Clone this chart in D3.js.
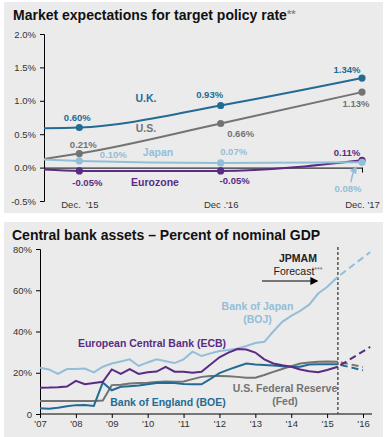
<!DOCTYPE html>
<html>
<head>
<meta charset="utf-8">
<script src="https://cdn.jsdelivr.net/npm/d3@7"></script>
<style>
  body { margin: 0; background: #fff; font-family: "Liberation Sans", Arial, sans-serif; }
  .axis text { font-family: "Liberation Sans", Arial, sans-serif; fill: #333; }
</style>
</head>
<body>
<div id="chart"></div>
<script>
// ---- top chart: market expectations (months from Dec '15) ----
const rateMonths = [-3, 0, 12, 24];
const rateTickMonths = [0, 12, 24];
const rateTickLabels = ["Dec.  '15", "Dec .'16", "Dec. '17"];
const rateYTicks = [-0.5, 0, 0.5, 1.0, 1.5, 2.0];
const ukRates = [0.59, 0.60, 0.93, 1.34];
const usRates = [0.13, 0.21, 0.66, 1.13];
const japanRates = [0.12, 0.10, 0.07, 0.08];
const euroRates = [-0.03, -0.05, -0.05, 0.11];

// ---- bottom chart: central bank assets, % of GDP (quarterly) ----
const assetDates = [2007, 2007.25, 2007.5, 2007.75, 2008, 2008.25, 2008.5, 2008.75,
  2009, 2009.25, 2009.5, 2009.75, 2010, 2010.25, 2010.5, 2010.75,
  2011, 2011.25, 2011.5, 2011.75, 2012, 2012.25, 2012.5, 2012.75,
  2013, 2013.25, 2013.5, 2013.75, 2014, 2014.25, 2014.5, 2014.75,
  2015, 2015.3];
const bojAssets = [22.4, 21.6, 19.4, 21.8, 21.8, 22.0, 20.2, 22.9,
  24.5, 25.5, 26.5, 23.3, 25.0, 26.5, 25.6, 24.7,
  26.5, 30.2, 28.1, 29.4, 30.5, 31.0, 31.8, 33.0,
  34.4, 35.0, 40.0, 44.7, 47.6, 50.0, 53.0, 58.4,
  61.6, 66.5];
const ecbAssets = [12.7, 12.8, 13.0, 13.3, 16.1, 14.4, 15.0, 15.6,
  21.6, 19.5, 21.8, 19.4, 20.2, 20.6, 22.9, 20.5,
  20.5, 20.0, 20.5, 24.0, 27.5, 29.8, 31.5, 31.3,
  29.8, 26.5, 24.5, 23.6, 22.9, 21.6, 20.7, 20.2,
  21.3, 22.9];
const fedAssets = [6.3, 6.3, 6.3, 6.3, 6.3, 6.3, 6.3, 6.5,
  14.0, 14.2, 14.8, 15.0, 15.2, 15.5, 15.8, 15.6,
  15.8, 16.9, 18.0, 18.4, 18.4, 18.3, 18.0, 17.6,
  17.6, 18.9, 20.4, 21.8, 23.2, 24.5, 25.0, 25.3,
  25.5, 25.3];
const boeAssets = [2.8, 2.5, 3.0, 3.8, 4.3, 4.4, 3.9, 15.3,
  11.5, 13.2, 13.5, 13.8, 14.4, 15.0, 15.2, 15.0,
  14.6, 14.4, 14.4, 17.0, 19.8, 21.5, 23.0, 24.5,
  24.0, 23.8, 23.5, 23.2, 22.9, 22.9, 24.0, 24.1,
  24.1, 24.1];
// JPMAM forecast
const forecastDatesLong = [2015.3, 2016.2];
const forecastDatesShort = [2015.3, 2016.0];
const bojForecast = [66.5, 78.5];
const ecbForecast = [22.9, 32.5];
const fedForecast = [25.3, 22.8];
const boeForecast = [24.1, 21.2];
const yearTicks = [2007, 2008, 2009, 2010, 2011, 2012, 2013, 2014, 2015, 2016];
const assetYTicks = [0, 20, 40, 60, 80];

const colors = {uk: "#246b93", us: "#737373", japan: "#93bed7", euro: "#5a2b84"};

const width = 385, height = 437;
const svg = d3.select("#chart").append("svg")
  .attr("width", width).attr("height", height);

// panels
svg.append("rect").attr("x", 4).attr("y", 2).attr("width", 379).attr("height", 211).attr("fill", "#ebebeb");
svg.append("rect").attr("x", 4).attr("y", 222).attr("width", 379).attr("height", 215).attr("fill", "#ebebeb");

/* ===================== TOP CHART ===================== */
const x1 = d3.scaleLinear().domain([-3, 24]).range([44, 362]);
const y1 = d3.scaleLinear().domain([-0.5, 2]).range([201, 34]);

const gTop = svg.append("g");

const title1 = gTop.append("text").attr("x", 13).attr("y", 20)
  .attr("font-size", 14).attr("font-weight", "bold").attr("fill", "#111")
  .text("Market expectations for target policy rate");
title1.append("tspan").attr("fill", "#888").attr("font-size", 11).attr("dy", -2).text("**");

// y axis
gTop.append("g").attr("class", "axis")
  .attr("transform", `translate(${x1(-3)},0)`)
  .call(d3.axisLeft(y1).tickValues(rateYTicks).tickSize(4).tickPadding(4)
    .tickFormat(d => d.toFixed(1) + "%"))
  .call(g => g.selectAll("text").attr("font-size", 9.5))
  .call(g => g.select(".domain").attr("stroke", "#000"));

// zero line with date ticks
gTop.append("g").attr("class", "axis")
  .attr("transform", `translate(0,${y1(0)})`)
  .call(d3.axisBottom(x1).tickValues(rateTickMonths).tickSize(5).tickSizeOuter(0).tickFormat(""))
  .call(g => g.select(".domain").attr("stroke", "#000"));

// date labels at bottom
gTop.append("g").attr("class", "axis")
  .attr("transform", `translate(0,${y1(-0.5)})`)
  .call(d3.axisBottom(x1).tickValues(rateTickMonths).tickSize(0).tickPadding(0)
    .tickFormat((d, i) => rateTickLabels[i]))
  .call(g => g.select(".domain").remove())
  .call(g => g.selectAll("text").attr("font-size", 9.5).attr("fill", "#222").style("white-space", "pre"));

const line1 = d3.line()
  .x((d, i) => x1(rateMonths[i]))
  .y(d => y1(d))
  .curve(d3.curveMonotoneX);

const rateSeries = [
  {name: "uk", values: ukRates},
  {name: "us", values: usRates},
  {name: "euro", values: euroRates},
  {name: "japan", values: japanRates}
];

rateSeries.forEach(s => {
  gTop.append("path")
    .attr("d", line1(s.values))
    .attr("fill", "none")
    .attr("stroke", colors[s.name])
    .attr("stroke-width", 2);
  gTop.selectAll(null)
    .data(s.values.slice(1))
    .join("circle")
    .attr("cx", (d, i) => x1(rateMonths[i + 1]))
    .attr("cy", d => y1(d))
    .attr("r", 3.6)
    .attr("fill", colors[s.name]);
});

// value labels: [series, index, dx, dy]
const valueLabels = [
  ["uk", 1, -2, -7], ["uk", 2, -11, -7], ["uk", 3, -15, -5],
  ["us", 1, 4, -6], ["us", 2, 20, 13], ["us", 3, -6, 15],
  ["japan", 1, 34, -2.5], ["japan", 2, 13, -7.5], ["japan", 3, -14, 30],
  ["euro", 1, 8, 15.5], ["euro", 2, 14, 13.5], ["euro", 3, -15, -4]
];
const seriesValues = {uk: ukRates, us: usRates, japan: japanRates, euro: euroRates};
gTop.selectAll("text.value")
  .data(valueLabels)
  .join("text")
  .attr("class", "value")
  .attr("x", d => x1(rateMonths[d[1]]) + d[2])
  .attr("y", d => y1(seriesValues[d[0]][d[1]]) + d[3])
  .attr("text-anchor", "middle")
  .attr("font-size", 9.5)
  .attr("font-weight", "bold")
  .attr("fill", d => colors[d[0]])
  .text(d => seriesValues[d[0]][d[1]].toFixed(2) + "%");

// series names
const rateNames = [["U.K.", "uk", 146, 101.5], ["U.S.", "us", 146, 131.5],
  ["Japan", "japan", 158, 155.5], ["Eurozone", "euro", 155, 185.5]];
gTop.selectAll("text.sname")
  .data(rateNames)
  .join("text")
  .attr("class", "sname")
  .attr("x", d => d[2]).attr("y", d => d[3])
  .attr("text-anchor", "middle")
  .attr("font-size", 10.5).attr("font-weight", "bold")
  .attr("fill", d => colors[d[1]])
  .text(d => d[0]);

// little arrow from 0.08% label to its point
const defs = svg.append("defs");
defs.append("marker").attr("id", "arrJ").attr("viewBox", "0 0 10 10")
  .attr("refX", 5).attr("refY", 5).attr("markerWidth", 5).attr("markerHeight", 5)
  .attr("orient", "auto")
  .append("path").attr("d", "M0,0L10,5L0,10z").attr("fill", colors.japan);
gTop.append("path")
  .attr("d", `M${x1(24) - 11},${y1(0.08) + 20} Q${x1(24) - 10},${y1(0.08) + 12} ${x1(24) - 7},${y1(0.08) + 7}`)
  .attr("fill", "none").attr("stroke", colors.japan).attr("stroke-width", 1.5)
  .attr("marker-end", "url(#arrJ)");

/* ===================== BOTTOM CHART ===================== */
const x2 = d3.scaleLinear().domain([2007, 2016]).range([40, 363]);
const y2 = d3.scaleLinear().domain([0, 80]).range([414, 249]);
const gBot = svg.append("g");

gBot.append("text").attr("x", 12).attr("y", 240)
  .attr("font-size", 14).attr("font-weight", "bold").attr("fill", "#111")
  .text("Central bank assets \u2013 Percent of nominal GDP");

gBot.append("g").attr("class", "axis")
  .attr("transform", `translate(${x2(2007)},0)`)
  .call(d3.axisLeft(y2).tickValues(assetYTicks).tickSize(4).tickPadding(4)
    .tickFormat(d => d === 0 ? "0" : d + "%"))
  .call(g => g.selectAll("text").attr("font-size", 9.5))
  .call(g => g.select(".domain").attr("stroke", "#000"));

gBot.append("g").attr("class", "axis")
  .attr("transform", `translate(0,${y2(0)})`)
  .call(d3.axisBottom(x2).tickValues(yearTicks).tickSize(4).tickSizeOuter(0).tickPadding(2)
    .tickFormat(d => "'" + String(d).slice(2)))
  .call(g => g.selectAll("text").attr("font-size", 9.5).attr("fill", "#222"))
  .call(g => g.select(".domain").attr("stroke", "#000").attr("d", `M${x2(2007)},0H${x2(2016.25)}`));

// forecast divider
gBot.append("line")
  .attr("x1", x2(2015.3)).attr("x2", x2(2015.3))
  .attr("y1", 247).attr("y2", y2(0))
  .attr("stroke", "#555").attr("stroke-width", 1.5).attr("stroke-dasharray", "3,2");

const line2 = d3.line().x(d => x2(d[0])).y(d => y2(d[1]));
const assetSeries = [
  {name: "japan", values: bojAssets, fc: bojForecast, fd: forecastDatesLong},
  {name: "us", values: fedAssets, fc: fedForecast, fd: forecastDatesShort},
  {name: "uk", values: boeAssets, fc: boeForecast, fd: forecastDatesShort},
  {name: "euro", values: ecbAssets, fc: ecbForecast, fd: forecastDatesLong}
];
assetSeries.forEach(s => {
  gBot.append("path")
    .attr("d", line2(s.values.map((v, i) => [assetDates[i], v])))
    .attr("fill", "none").attr("stroke", colors[s.name]).attr("stroke-width", 2);
  gBot.append("path")
    .attr("d", line2(s.fc.map((v, i) => [s.fd[i], v])))
    .attr("fill", "none").attr("stroke", colors[s.name]).attr("stroke-width", 2)
    .attr("stroke-dasharray", "7,4").attr("stroke-dashoffset", 8);
});

// forecast note
gBot.append("text").attr("x", 298).attr("y", 262).attr("text-anchor", "middle")
  .attr("font-size", 10.5).attr("font-weight", "bold").attr("fill", "#222").text("JPMAM");
const fcText = gBot.append("text").attr("x", 298).attr("y", 275).attr("text-anchor", "middle")
  .attr("font-size", 10.5).attr("fill", "#222").text("Forecast");
fcText.append("tspan").attr("font-size", 7).attr("dy", -3).attr("fill", "#666").text("***");
defs.append("marker").attr("id", "arrF").attr("viewBox", "0 0 10 10")
  .attr("refX", 2).attr("refY", 5).attr("markerWidth", 4).attr("markerHeight", 4)
  .attr("orient", "auto")
  .append("path").attr("d", "M0,0L10,5L0,10z").attr("fill", "#000");
gBot.append("line").attr("x1", 262).attr("x2", 312).attr("y1", 281).attr("y2", 281)
  .attr("stroke", "#777").attr("stroke-width", 2).attr("marker-end", "url(#arrF)");

// series labels
const assetNames = [
  ["Bank of Japan", "japan", 257.5, 310], ["(BOJ)", "japan", 257.5, 323],
  ["European Central Bank (ECB)", "euro", 152, 347],
  ["U.S. Federal Reserve", "us", 285, 392], ["(Fed)", "us", 285, 405],
  ["Bank of England (BOE)", "uk", 168, 406]
];
gBot.selectAll("text.sname")
  .data(assetNames)
  .join("text")
  .attr("class", "sname")
  .attr("x", d => d[2]).attr("y", d => d[3])
  .attr("text-anchor", "middle")
  .attr("font-size", 10.5).attr("font-weight", "bold")
  .attr("fill", d => colors[d[1]])
  .text(d => d[0]);
</script>
</body>
</html>
